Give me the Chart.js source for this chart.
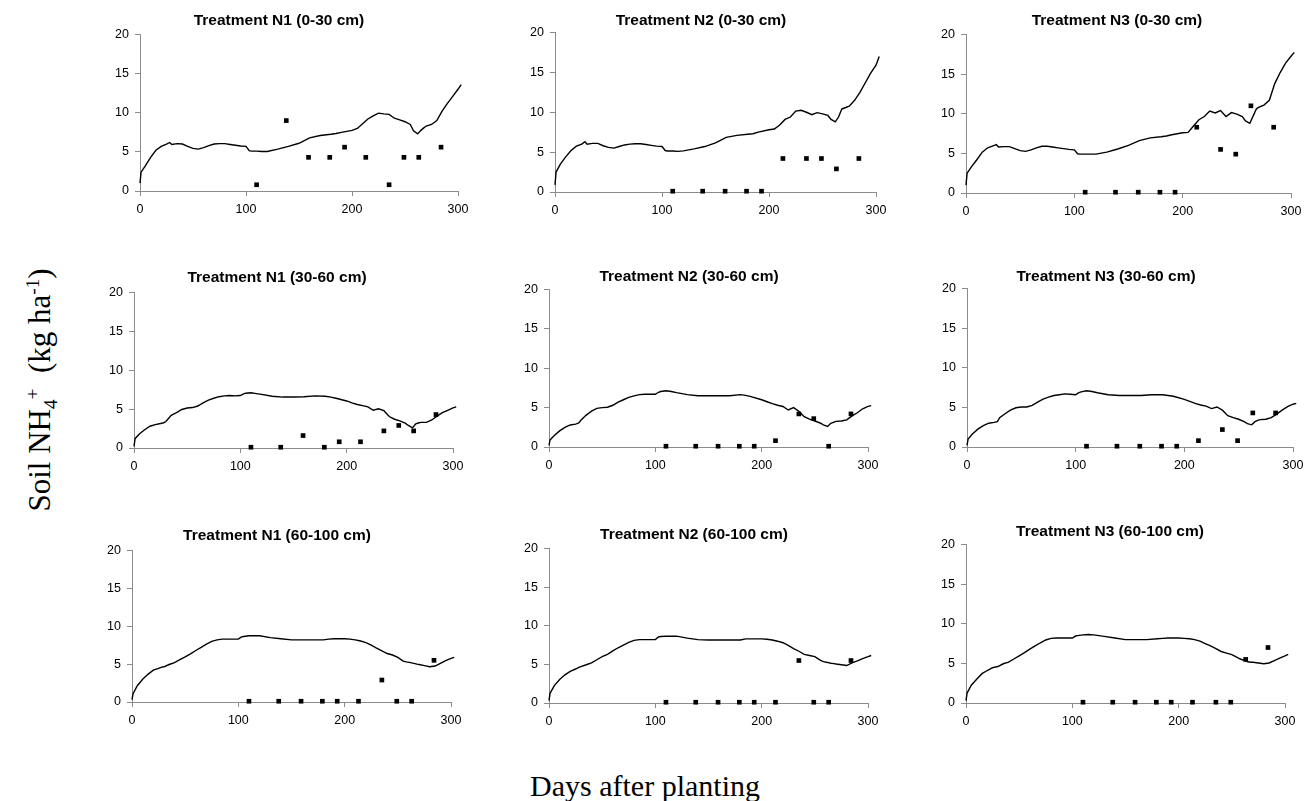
<!DOCTYPE html>
<html>
<head>
<meta charset="utf-8">
<script src="https://cdn.jsdelivr.net/npm/chart.js@4.4.1/dist/chart.umd.min.js"></script>
<style>
  html, body { margin: 0; padding: 0; background: #fff; }
  body { width: 1306px; height: 801px; position: relative; overflow: hidden; }
  canvas { position: absolute; }
  .ttl { position: absolute; font-family: "Liberation Sans", Arial, sans-serif; font-weight: bold; font-size: 15.5px; color: #000; white-space: nowrap; transform: translate(-50%, -50%); }
  .axt { position: absolute; font-family: "Liberation Serif", "Times New Roman", serif; color: #000; white-space: nowrap; transform: translate(-50%, -50%); }
  .axt sub, .axt sup { font-size: 62%; }
</style>
</head>
<body>
<script>
// ---- data ----
const simDays = [0,1,5,10,15,20,25,28,30,35,40,45,50,55,60,65,70,75,80,85,90,95,100,103,105,110,115,120,130,140,150,160,170,180,185,190,200,205,210,215,220,225,230,235,240,245,250,255,258,262,265,268,270,275,280,285,290,295,300,303];

const simN1_0_30 = [1.0,2.4,3.2,4.3,5.2,5.7,6.0,6.2,5.95,6.05,6.0,5.7,5.45,5.35,5.55,5.8,6.0,6.05,6.05,5.95,5.85,5.75,5.7,5.15,5.1,5.1,5.05,5.05,5.35,5.7,6.1,6.8,7.1,7.25,7.35,7.5,7.75,8.0,8.6,9.2,9.6,9.95,9.85,9.8,9.3,9.1,8.85,8.5,7.7,7.3,7.75,8.1,8.3,8.5,9.0,10.2,11.2,12.1,13.0,13.6];
const simN2_0_30 = [0.9,2.5,3.5,4.4,5.2,5.75,6.0,6.3,6.0,6.1,6.1,5.8,5.6,5.5,5.7,5.9,6.0,6.05,6.05,5.95,5.85,5.75,5.7,5.2,5.15,5.15,5.1,5.15,5.4,5.7,6.15,6.85,7.1,7.25,7.3,7.5,7.8,7.9,8.4,9.1,9.4,10.15,10.25,10.0,9.7,9.95,9.8,9.6,9.1,8.8,9.4,10.4,10.5,10.75,11.5,12.5,13.7,14.9,15.9,17.0];
const simN3_0_30 = [1.0,2.5,3.3,4.2,5.15,5.7,5.95,6.1,5.8,5.85,5.85,5.6,5.35,5.25,5.45,5.7,5.9,5.9,5.8,5.7,5.6,5.5,5.45,4.95,4.9,4.9,4.9,4.9,5.15,5.55,6.0,6.6,6.95,7.1,7.2,7.35,7.6,7.65,8.45,9.25,9.65,10.35,10.1,10.4,9.65,10.15,9.95,9.65,9.1,8.8,9.7,10.6,10.8,11.1,11.7,13.8,15.2,16.4,17.25,17.75];

const simN1_30_60 = [0.2,1.2,1.8,2.35,2.8,3.0,3.15,3.25,3.4,4.2,4.55,4.95,5.15,5.2,5.4,5.8,6.15,6.4,6.6,6.7,6.75,6.7,6.75,6.95,7.05,7.1,7.0,6.9,6.65,6.55,6.55,6.6,6.7,6.65,6.55,6.4,6.05,5.8,5.6,5.45,5.3,4.85,5.05,4.8,4.05,3.7,3.5,3.2,2.9,2.6,3.1,3.25,3.3,3.3,3.6,4.1,4.55,4.85,5.15,5.3];
const simN2_30_60 = [0.2,0.9,1.45,2.05,2.5,2.8,2.9,3.05,3.4,4.05,4.55,4.9,5.0,5.05,5.3,5.7,6.0,6.3,6.5,6.65,6.7,6.7,6.7,6.95,7.05,7.15,7.05,6.9,6.65,6.5,6.5,6.5,6.5,6.65,6.55,6.4,6.0,5.75,5.5,5.3,5.15,4.7,5.0,4.55,3.85,3.55,3.3,3.05,2.8,2.6,3.0,3.15,3.25,3.3,3.45,3.95,4.35,4.85,5.15,5.25];
const simN3_30_60 = [0.2,1.0,1.65,2.25,2.7,3.0,3.1,3.2,3.7,4.2,4.65,4.95,5.05,5.05,5.25,5.65,6.05,6.3,6.5,6.6,6.7,6.65,6.6,6.85,6.95,7.1,7.0,6.85,6.6,6.5,6.5,6.5,6.6,6.6,6.5,6.4,6.0,5.75,5.5,5.3,5.15,4.85,5.05,4.65,3.95,3.7,3.5,3.2,2.95,2.8,3.2,3.4,3.45,3.5,3.7,4.15,4.65,5.1,5.4,5.5];

const simN1_60_100 = [0.3,1.1,2.15,3.0,3.65,4.2,4.45,4.6,4.65,4.95,5.2,5.6,5.95,6.35,6.8,7.2,7.65,8.0,8.2,8.3,8.3,8.3,8.3,8.6,8.65,8.75,8.75,8.75,8.5,8.35,8.2,8.2,8.2,8.2,8.3,8.35,8.35,8.3,8.2,8.05,7.85,7.5,7.1,6.75,6.4,6.2,5.9,5.4,5.3,5.2,5.1,5.0,4.95,4.8,4.65,4.75,5.1,5.45,5.75,5.9];
const simN2_60_100 = [0.3,1.25,2.25,3.05,3.65,4.1,4.4,4.6,4.7,4.95,5.2,5.6,6.0,6.3,6.75,7.15,7.5,7.85,8.1,8.2,8.2,8.2,8.2,8.55,8.6,8.65,8.65,8.65,8.4,8.2,8.15,8.15,8.15,8.15,8.3,8.3,8.3,8.25,8.15,8.0,7.8,7.45,7.05,6.7,6.3,6.15,6.0,5.55,5.35,5.25,5.15,5.1,5.05,4.95,4.85,5.2,5.45,5.75,6.0,6.15];
const simN3_60_100 = [0.3,1.25,2.25,3.0,3.7,4.1,4.45,4.55,4.6,4.95,5.15,5.55,5.95,6.35,6.8,7.2,7.6,7.95,8.15,8.2,8.2,8.2,8.2,8.45,8.5,8.6,8.65,8.6,8.4,8.2,8.0,8.0,8.0,8.1,8.15,8.2,8.2,8.15,8.1,8.0,7.8,7.5,7.2,6.85,6.5,6.3,6.1,5.75,5.55,5.35,5.2,5.15,5.15,5.05,4.95,5.05,5.35,5.65,5.95,6.15];

const obsDays = [110,138,159,179,193,213,235,249,263,284];
const obsN1_0_30 = [0.8,9.0,4.3,4.3,5.6,4.3,0.8,4.3,4.3,5.6];
const obsN2_0_30 = [0.1,0.1,0.1,0.1,0.1,4.2,4.2,4.2,2.9,4.2];
const obsN3_0_30 = [0.1,0.1,0.1,0.1,0.1,8.3,5.5,4.9,11.0,8.3];
const obsN1_30_60 = [0.1,0.1,1.6,0.1,0.8,0.8,2.2,2.9,2.2,4.3];
const obsN2_30_60 = [0.1,0.1,0.1,0.1,0.1,0.8,4.2,3.6,0.1,4.2];
const obsN3_30_60 = [0.1,0.1,0.1,0.1,0.1,0.8,2.2,0.8,4.3,4.3];
const obsN1_60_100 = [0.1,0.1,0.1,0.1,0.1,0.1,2.9,0.1,0.1,5.5];
const obsN2_60_100 = [0.1,0.1,0.1,0.1,0.1,0.1,5.5,0.1,0.1,5.5];
const obsN3_60_100 = [0.1,0.1,0.1,0.1,0.1,0.1,0.1,0.1,5.5,7.0];

const xTicks = [0,100,200,300];
const yTicks = [0,5,10,15,20];
const panelTitles = [
  "Treatment N1 (0-30 cm)","Treatment N2 (0-30 cm)","Treatment N3 (0-30 cm)",
  "Treatment N1 (30-60 cm)","Treatment N2 (30-60 cm)","Treatment N3 (30-60 cm)",
  "Treatment N1 (60-100 cm)","Treatment N2 (60-100 cm)","Treatment N3 (60-100 cm)"
];
const xAxisTitle = "Days after planting";

// ---- layout (plot-area boxes in page pixels, title centres) ----
const sims = [simN1_0_30, simN2_0_30, simN3_0_30, simN1_30_60, simN2_30_60, simN3_30_60, simN1_60_100, simN2_60_100, simN3_60_100];
const obs = [obsN1_0_30, obsN2_0_30, obsN3_0_30, obsN1_30_60, obsN2_30_60, obsN3_30_60, obsN1_60_100, obsN2_60_100, obsN3_60_100];
const boxes = [
  {l:140, t:31,  r:458,  b:191, tx:279,  ty:20},
  {l:555, t:29,  r:876,  b:192, tx:701,  ty:20},
  {l:966, t:31,  r:1291, b:193, tx:1117, ty:20},
  {l:134, t:289, r:453,  b:448, tx:277,  ty:277},
  {l:549, t:286, r:868,  b:447, tx:689,  ty:276},
  {l:967, t:285, r:1293, b:447, tx:1106, ty:276},
  {l:132, t:547, r:451,  b:702, tx:277,  ty:535},
  {l:549, t:545, r:868,  b:703, tx:694,  ty:534},
  {l:966, t:541, r:1285, b:703, tx:1110, ty:531}
];

const AXW = 45, PT = 10, PR = 22, AXH = 30;
const axisGray = '#8c8c8c';
const X_MIN = 0, X_MAX = 300, Y_MIN = 0, Y_MAX = 20;

boxes.forEach((bx, i) => {
  const cv = document.createElement('canvas');
  const w = (bx.r - bx.l) + AXW + PR;
  const h = (bx.b - bx.t) + PT + AXH;
  cv.width = w; cv.height = h;
  cv.style.left = (bx.l - AXW) + 'px';
  cv.style.top = (bx.t - PT) + 'px';
  cv.style.width = w + 'px'; cv.style.height = h + 'px';
  document.body.appendChild(cv);

  const t = document.createElement('div');
  t.className = 'ttl';
  t.textContent = panelTitles[i];
  t.style.left = bx.tx + 'px'; t.style.top = bx.ty + 'px';
  document.body.appendChild(t);

  new Chart(cv, {
    type: 'scatter',
    data: {
      datasets: [
        {
          label: 'Simulated',
          data: simDays.map((d, k) => ({x: d, y: sims[i][k]})),
          showLine: true, borderColor: '#000', borderWidth: 1.4,
          pointRadius: 0, tension: 0, clip: false
        },
        {
          label: 'Observed',
          data: obsDays.map((d, k) => ({x: d, y: obs[i][k]})),
          showLine: false, pointStyle: 'rect', pointRadius: 3.3,
          backgroundColor: '#000', borderColor: '#000', borderWidth: 0, clip: false
        }
      ]
    },
    options: {
      responsive: false, animation: false, devicePixelRatio: 1,
      layout: { padding: { left: 0, top: PT, right: PR, bottom: 0 } },
      plugins: { legend: { display: false }, tooltip: { enabled: false }, title: { display: false } },
      scales: {
        x: {
          type: 'linear',
          afterDataLimits: s => { s.min = X_MIN; s.max = X_MAX; },
          afterBuildTicks: s => { s.ticks = xTicks.map(v => ({value: v})); },
          afterFit: s => { s.height = AXH; },
          grid: { display: true, drawOnChartArea: false, drawTicks: true, tickLength: 5, color: axisGray },
          border: { display: true, color: axisGray, width: 1 },
          ticks: { color: '#000', font: { family: 'Liberation Sans, Arial, sans-serif', size: 12.5 }, padding: 6, maxRotation: 0 }
        },
        y: {
          type: 'linear',
          afterDataLimits: s => { s.min = Y_MIN; s.max = Y_MAX; },
          afterBuildTicks: s => { s.ticks = yTicks.map(v => ({value: v})); },
          afterFit: s => { s.width = AXW; },
          grid: { display: true, drawOnChartArea: false, drawTicks: true, tickLength: 5, color: axisGray },
          border: { display: true, color: axisGray, width: 1 },
          ticks: { color: '#000', font: { family: 'Liberation Sans, Arial, sans-serif', size: 12.5 }, padding: 6 }
        }
      }
    }
  });
});

// axis titles
const yt = document.createElement('div');
yt.className = 'axt';
yt.style.fontSize = '31px';
yt.style.left = '42px'; yt.style.top = '390px';
yt.style.transform = 'translate(-50%, -50%) rotate(-90deg)';
yt.innerHTML = 'Soil NH<sub>4</sub><sup>+</sup>&nbsp; (kg ha<sup>-1</sup>)';
document.body.appendChild(yt);

const xt = document.createElement('div');
xt.className = 'axt';
xt.style.fontSize = '30px';
xt.style.left = '645px'; xt.style.top = '786px';
xt.textContent = xAxisTitle;
document.body.appendChild(xt);
</script>
</body>
</html>
